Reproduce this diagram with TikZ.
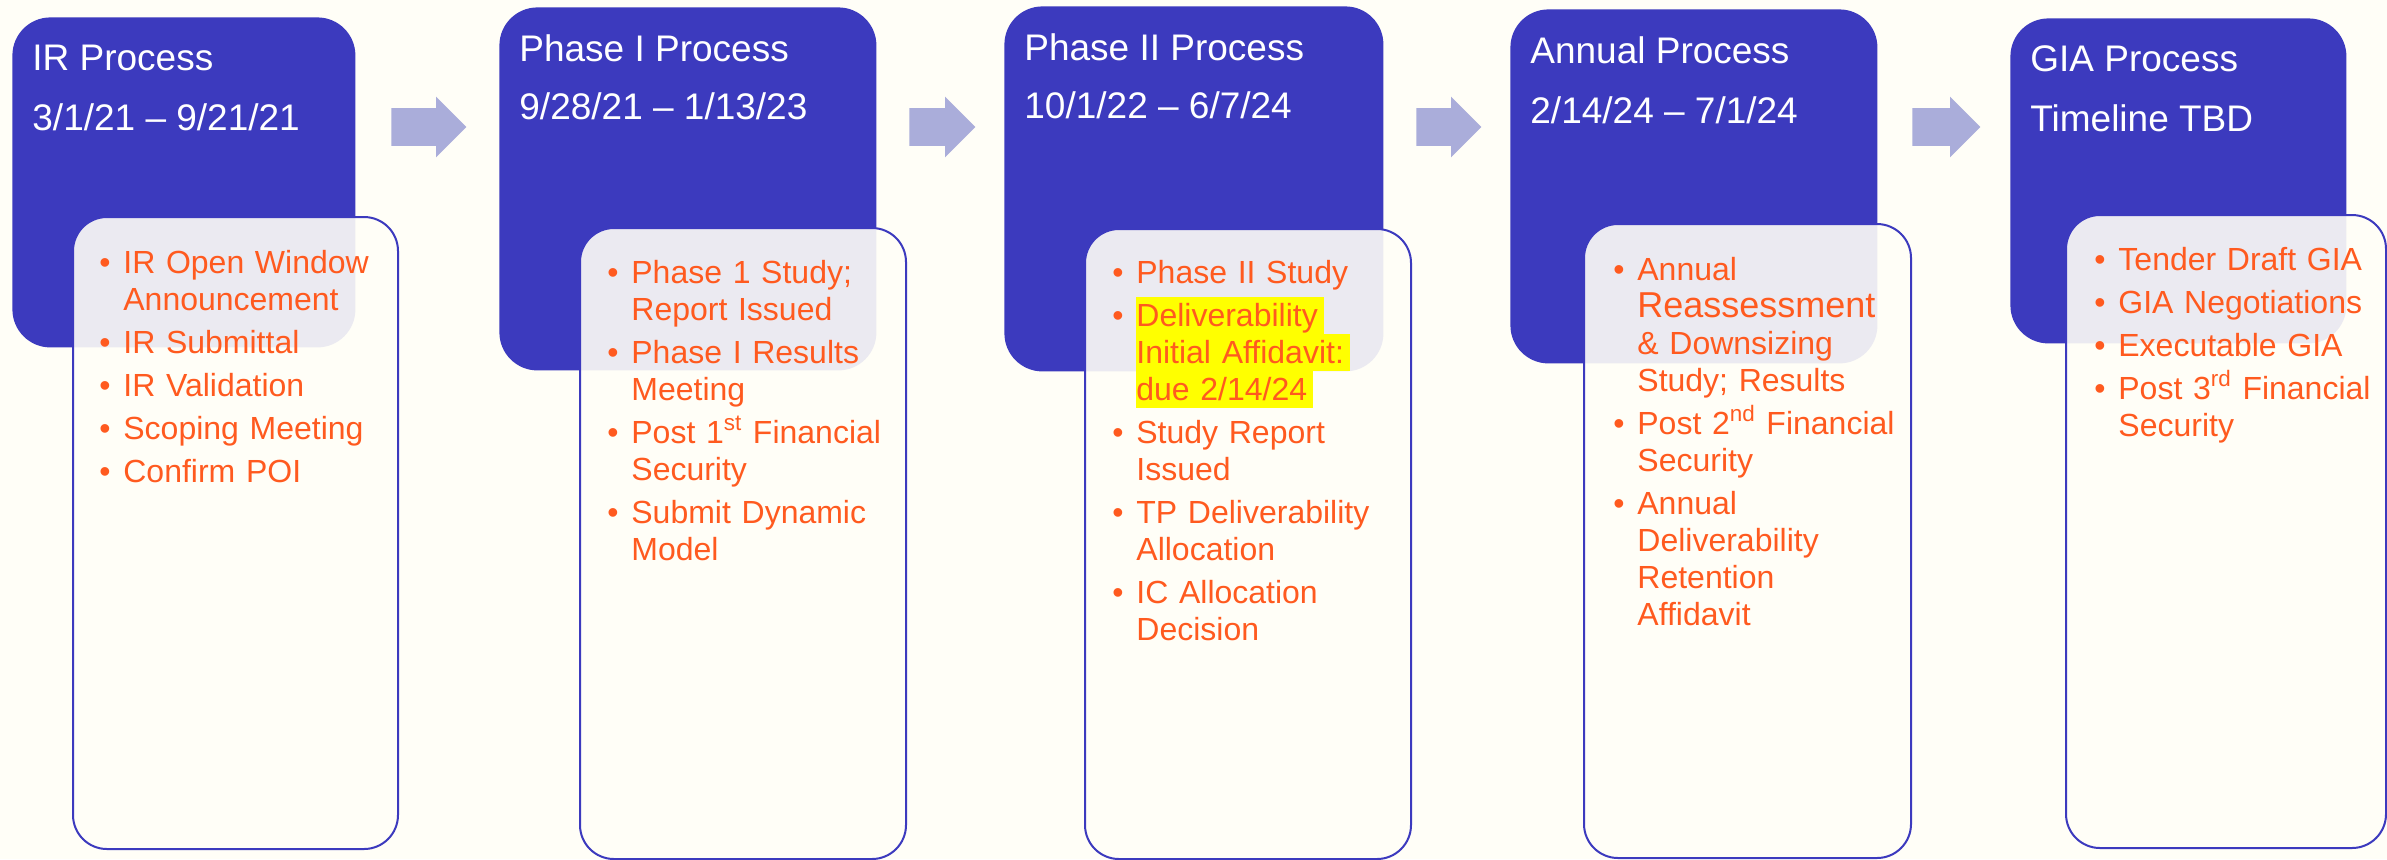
\documentclass[tikz,border=0pt]{standalone}
\usepackage{fontspec}
\setmainfont{Liberation Sans}
\usetikzlibrary{shapes.arrows}
\definecolor{procblue}{HTML}{3C3ABE}
\definecolor{steporange}{HTML}{FF5A1F}
\definecolor{flowgray}{HTML}{AAADDA}
\definecolor{paper}{HTML}{FFFEF7}
\definecolor{hilite}{HTML}{FFFF00}
\setlength{\fboxsep}{0pt}
\newcommand{\itm}{\setlength{\leftskip}{12pt}\setlength{\parskip}{3pt}\noindent\llap{\makebox[12pt][l]{\textbullet}}}
\newcommand{\nl}{\hfil\break}
\newcommand{\hlt}[1]{\colorbox{hilite}{\rule[-4pt]{0pt}{18.5pt}#1\hspace{3pt}}}
\tikzset{
  hdr/.style={draw=none,fill=procblue,rounded corners=19pt,anchor=north west,inner sep=0pt},
  card/.style={draw=procblue,line width=1pt,fill=paper,fill opacity=0.9,rounded corners=17pt,anchor=north west,inner sep=0pt},
  ttl/.style={text=white,anchor=base west,inner sep=0pt,font=\fontsize{18.5}{22}\selectfont},
  lst/.style={text=steporange,anchor=base west,inner sep=0pt,text width=160pt,align=left,
    font=\fontsize{16}{18.5}\selectfont},
  blk/.style={single arrow,fill=flowgray,draw=none,anchor=tail,inner xsep=0pt,inner ysep=9.25pt,
    single arrow head extend=5.75pt},
}

\begin{document}
\begin{tikzpicture}[x=0.5pt,y=-0.5pt]
 \useasboundingbox (0,0) rectangle (2387,859);
 \fill[paper] (0,0) rectangle (2387,859);
 % process headers
 \foreach \n/\x/\y/\w/\h in {ir/12/17/343/330,ph1/499/7/377/363,ph2/1004/6/379/365,ann/1510/9/367/354,gia/2010/18/336/325}
   \node[hdr,minimum width=\w*0.5pt,minimum height=\h*0.5pt] (\n-box) at (\x,\y) {};
 % step cards
 \foreach \n/\x/\y/\w/\h in {ir/72/216/325/632,ph1/579/227/326/631,ph2/1084/228/326/630,ann/1583/223/327/634,gia/2065/214/320/633}
   \node[card,minimum width=\w*0.5pt,minimum height=\h*0.5pt] (\n-card) at (\x,\y) {};
 % titles and dates
 \node[ttl] (ir-ttl) at (32,70) {IR Process};
 \node[ttl] (ir-date) at (32,130) {3/1/21 – 9/21/21};
 \node[ttl] (ph1-ttl) at (519,61) {Phase I Process};
 \node[ttl] (ph1-date) at (519,119) {9/28/21 – 1/13/23};
 \node[ttl] (ph2-ttl) at (1024,60) {Phase II Process};
 \node[ttl] (ph2-date) at (1024,118) {10/1/22 – 6/7/24};
 \node[ttl] (ann-ttl) at (1530,63) {Annual Process};
 \node[ttl] (ann-date) at (1530,123) {2/14/24 – 7/1/24};
 \node[ttl] (gia-ttl) at (2030,71) {GIA Process};
 \node[ttl] (gia-date) at (2030,131) {Timeline TBD};
 % steps
 \node[lst] (ir-list) at (99,273) {\itm IR Open Window\nl Announcement
   \par\itm IR Submittal \par\itm IR Validation \par\itm Scoping Meeting \par\itm Confirm POI\par};
 \node[lst] (ph1-list) at (607,283) {\itm Phase 1 Study;\nl Report Issued
   \par\itm Phase I Results\nl Meeting
   \par\itm Post 1\textsuperscript{st} Financial\nl Security
   \par\itm Submit Dynamic\nl Model\par};
 \node[lst] (ph2-list) at (1112,283) {\itm Phase II Study
   \par\itm \hlt{Deliverability}\nl\hlt{Initial Affidavit:}\nl\hlt{due 2/14/24}
   \par\itm Study Report\nl Issued
   \par\itm TP Deliverability\nl Allocation
   \par\itm IC Allocation\nl Decision\par};
 \node[lst] (ann-list) at (1613,280) {\itm Annual\nl{\fontsize{18}{18.5}\selectfont Reassessment}\nl\& Downsizing\nl Study; Results
   \par\itm Post 2\textsuperscript{nd} Financial\nl Security
   \par\itm Annual\nl Deliverability\nl Retention\nl Affidavit\par};
 \node[lst] (gia-list) at (2094,270) {\itm Tender Draft GIA \par\itm GIA Negotiations
   \par\itm Executable GIA \par\itm Post 3\textsuperscript{rd} Financial\nl Security\par};
 % flow arrows
 \foreach \a/\l [count=\i] in {391/75,909/66,1416/65,1912/68}
   \node[blk,minimum height=\l*0.5pt] (flow\i) at (\a,127) {};
\end{tikzpicture}
\end{document}
